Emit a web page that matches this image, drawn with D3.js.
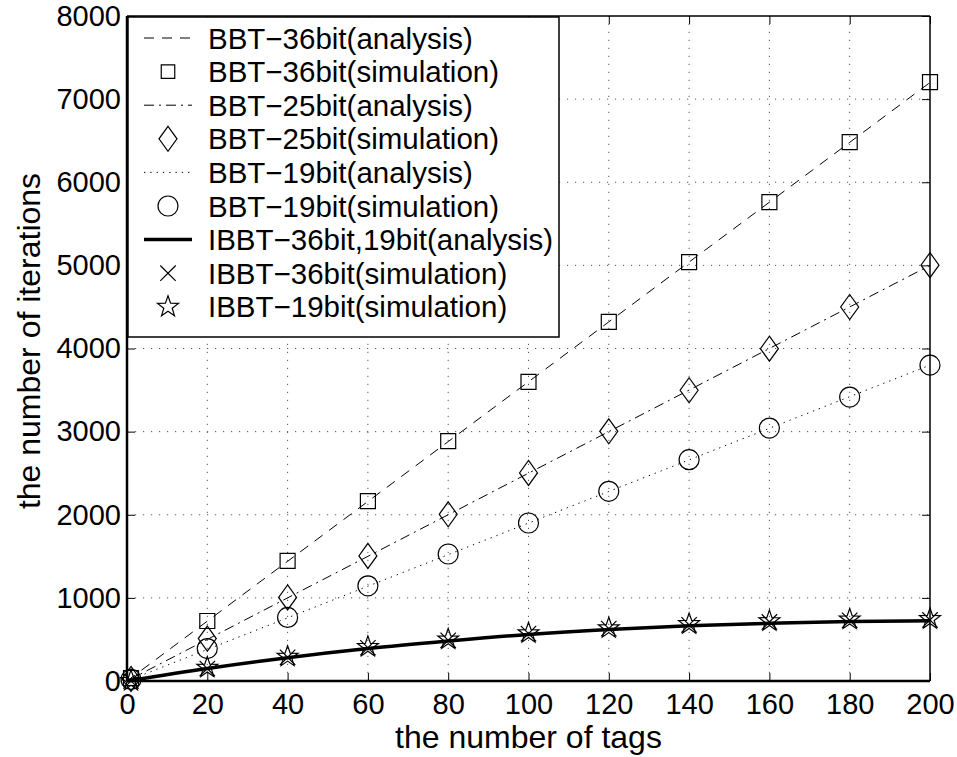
<!DOCTYPE html>
<html>
<head>
<meta charset="utf-8">
<script src="https://cdn.jsdelivr.net/npm/d3@7/dist/d3.min.js"></script>
<style>
  html, body { margin: 0; padding: 0; background: #fff; }
  svg { display: block; font-family: "Liberation Sans", Arial, Helvetica, sans-serif; }
</style>
</head>
<body>
<svg id="chart" width="957" height="757"></svg>
<script>
// ---- data ----
const tagsAnalysis = [0, 20, 40, 60, 80, 100, 120, 140, 160, 180, 200];
const tagsSim = [1, 20, 40, 60, 80, 100, 120, 140, 160, 180, 200];
const bbt36Analysis = [0, 720, 1440, 2160, 2880, 3600, 4320, 5040, 5760, 6480, 7200];
const bbt36Sim = [36, 722, 1444, 2163, 2885, 3598, 4320, 5040, 5760, 6482, 7205];
const bbt25Analysis = [0, 500, 1000, 1500, 2000, 2500, 3000, 3500, 4000, 4500, 5000];
const bbt25Sim = [25, 510, 1005, 1505, 2005, 2503, 3004, 3498, 3998, 4499, 5003];
const bbt19Analysis = [0, 380, 760, 1140, 1520, 1900, 2280, 2660, 3040, 3420, 3800];
const bbt19Sim = [19, 390, 765, 1145, 1528, 1901, 2282, 2663, 3043, 3416, 3800];
const ibbtAnalysis = [0, 150, 280, 390, 480, 560, 620, 665, 695, 715, 725];
const ibbt36Sim = [1, 150, 285, 400, 490, 570, 630, 675, 710, 730, 735];
const ibbt19Sim = [1, 160, 292, 410, 500, 575, 635, 685, 720, 740, 745];
const xTicks = [0, 20, 40, 60, 80, 100, 120, 140, 160, 180, 200];
const yTicks = [0, 1000, 2000, 3000, 4000, 5000, 6000, 7000, 8000];
const legendLabels = [
  "BBT\u221236bit(analysis)", "BBT\u221236bit(simulation)",
  "BBT\u221225bit(analysis)", "BBT\u221225bit(simulation)",
  "BBT\u221219bit(analysis)", "BBT\u221219bit(simulation)",
  "IBBT\u221236bit,19bit(analysis)", "IBBT\u221236bit(simulation)",
  "IBBT\u221219bit(simulation)"
];
const xLabel = "the number of tags";
const yLabel = "the number of iterations";

// ---- layout ----
const L = 127, R = 930, T = 16, B = 681;
const svg = d3.select("#chart");
const x = d3.scaleLinear().domain([0, 200]).range([L, R]);
const y = d3.scaleLinear().domain([0, 8000]).range([B, T]);

// grid
const grid = svg.append("g").attr("stroke", "#555").attr("stroke-width", 1)
  .attr("stroke-dasharray", "1.2,6.8");
xTicks.slice(1, -1).forEach(t => grid.append("line")
  .attr("x1", x(t)).attr("x2", x(t)).attr("y1", B).attr("y2", T));
yTicks.slice(1, -1).forEach(t => grid.append("line")
  .attr("x1", L).attr("x2", R).attr("y1", y(t)).attr("y2", y(t)));

// axes with inward ticks (MATLAB box)
const tickLen = 8;
const fmt = d3.format("d");
const xAxisB = d3.axisBottom(x).tickValues(xTicks).tickFormat(fmt).tickSizeInner(-tickLen).tickSizeOuter(0);
const yAxisL = d3.axisLeft(y).tickValues(yTicks).tickFormat(fmt).tickSizeInner(-tickLen).tickSizeOuter(0);
const xAxisT = d3.axisTop(x).tickValues(xTicks).tickSizeInner(-tickLen).tickSizeOuter(0).tickFormat("");
const yAxisR = d3.axisRight(y).tickValues(yTicks).tickSizeInner(-tickLen).tickSizeOuter(0).tickFormat("");

function styleAxis(g) {
  g.select(".domain").remove();
  g.selectAll(".tick line").attr("stroke", "#000").attr("stroke-width", 1);
  g.selectAll(".tick text").attr("fill", "#000").attr("font-size", 29)
    .attr("font-family", "Liberation Sans, Arial, sans-serif");
}
svg.append("g").attr("transform", `translate(0,${B})`).call(xAxisB).call(styleAxis)
  .selectAll(".tick text").attr("dy", "0.71em").attr("y", 12);
svg.append("g").attr("transform", `translate(${L},0)`).call(yAxisL).call(styleAxis)
  .selectAll(".tick text").attr("x", -6);
svg.append("g").attr("transform", `translate(0,${T})`).call(xAxisT).call(styleAxis);
svg.append("g").attr("transform", `translate(${R},0)`).call(yAxisR).call(styleAxis);

// series
const idx = d3.range(tagsAnalysis.length);
function drawLine(xs, ys, dash, width) {
  const line = d3.line().x(i => x(xs[i])).y(i => y(ys[i])).curve(d3.curveMonotoneX);
  svg.append("path").datum(idx).attr("d", line)
    .attr("fill", "none").attr("stroke", "#000").attr("stroke-width", width)
    .attr("stroke-dasharray", dash);
}
drawLine(tagsAnalysis, bbt36Analysis, "10,8", 1);
drawLine(tagsAnalysis, bbt25Analysis, "10,5,2,5", 1);
drawLine(tagsAnalysis, bbt19Analysis, "1.3,5", 1);
drawLine(tagsAnalysis, ibbtAnalysis, null, 3.5);

// marker shapes
function markerPath(type, s) {
  const p = d3.path();
  if (type === "square") { const h = s * 0.75; p.rect(-h, -h, 2 * h, 2 * h); }
  else if (type === "diamond") { const w = s * 0.9, h = s * 1.25; p.moveTo(0, -h); p.lineTo(w, 0); p.lineTo(0, h); p.lineTo(-w, 0); p.closePath(); }
  else if (type === "circle") { p.moveTo(s, 0); p.arc(0, 0, s, 0, 2 * Math.PI); }
  else if (type === "x") { const h = s * 0.7; p.moveTo(-h, -h); p.lineTo(h, h); p.moveTo(h, -h); p.lineTo(-h, h); }
  else if (type === "star") {
    const ro = s, ri = s * 0.40;
    for (let k = 0; k < 10; k++) {
      const r = k % 2 ? ri : ro, a = -Math.PI / 2 + k * Math.PI / 5;
      const px = r * Math.cos(a), py = r * Math.sin(a);
      k ? p.lineTo(px, py) : p.moveTo(px, py);
    }
    p.closePath();
  }
  return p.toString();
}
function drawMarkers(xs, ys, type, s) {
  svg.append("g").selectAll("path").data(idx).join("path")
    .attr("transform", i => `translate(${x(xs[i])},${y(ys[i])})`)
    .attr("d", markerPath(type, s))
    .attr("fill", "none").attr("stroke", "#000").attr("stroke-width", 1.2);
}
drawMarkers(tagsSim, bbt36Sim, "square", 10);
drawMarkers(tagsSim, bbt25Sim, "diamond", 10);
drawMarkers(tagsSim, bbt19Sim, "circle", 10);
drawMarkers(tagsSim, ibbt36Sim, "x", 11);
drawMarkers(tagsSim, ibbt19Sim, "star", 11);

// axis box lines
const box = svg.append("g").attr("stroke", "#000").attr("fill", "none");
box.append("line").attr("x1", L).attr("x2", R).attr("y1", T).attr("y2", T).attr("stroke-width", 1.5);
box.append("line").attr("x1", R).attr("x2", R).attr("y1", T).attr("y2", B).attr("stroke-width", 1.5);
box.append("line").attr("x1", L).attr("x2", R).attr("y1", B).attr("y2", B).attr("stroke-width", 2.5);
box.append("line").attr("x1", L).attr("x2", L).attr("y1", T).attr("y2", B).attr("stroke-width", 2.5);

// legend
const lg = svg.append("g");
const lgX = 128, lgY = 17, lgW = 431, lgH = 320, rowH = 33.6, row0 = 38;
lg.append("rect").attr("x", lgX).attr("y", lgY).attr("width", lgW).attr("height", lgH)
  .attr("fill", "#fff").attr("stroke", "#000").attr("stroke-width", 1.5);
const legendStyles = [
  { dash: "10,8", w: 1 }, { m: "square", s: 9 },
  { dash: "10,5,2,5", w: 1 }, { m: "diamond", s: 10 },
  { dash: "1.3,5", w: 1 }, { m: "circle", s: 10 },
  { dash: null, w: 3.5 }, { m: "x", s: 11 }, { m: "star", s: 11 }
];
legendLabels.forEach((lab, i) => {
  const cy = row0 + i * rowH;
  const st = legendStyles[i];
  if (st.m) {
    lg.append("path").attr("transform", `translate(168,${cy})`).attr("d", markerPath(st.m, st.s))
      .attr("fill", "none").attr("stroke", "#000").attr("stroke-width", 1.2);
  } else {
    lg.append("line").attr("x1", 144).attr("x2", 192).attr("y1", cy).attr("y2", cy)
      .attr("stroke", "#000").attr("stroke-width", st.w).attr("stroke-dasharray", st.dash);
  }
  lg.append("text").attr("x", 208).attr("y", cy).attr("dy", "0.36em")
    .attr("font-size", 29.5).attr("fill", "#000").text(lab);
});

// axis labels
svg.append("text").attr("x", (L + R) / 2).attr("y", 748).attr("text-anchor", "middle")
  .attr("font-size", 32).attr("fill", "#000").text(xLabel);
svg.append("text").attr("transform", `translate(40,341) rotate(-90)`)
  .attr("text-anchor", "middle").attr("font-size", 32).attr("fill", "#000").text(yLabel);
</script>
</body>
</html>
